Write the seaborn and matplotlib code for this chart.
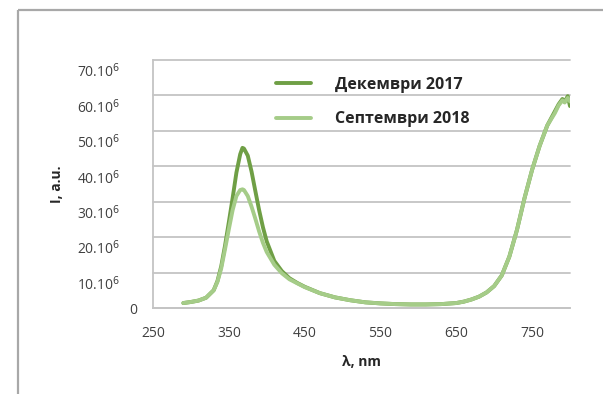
import numpy as np
import pandas as pd
import seaborn as sns
import matplotlib
matplotlib.use("Agg")
import matplotlib.pyplot as plt
import matplotlib.transforms as mtransforms
from matplotlib.lines import Line2D

# Emission spectra (wavelength in nm, intensity in millions of counts)
wavelength = [290, 300, 310, 320, 330, 335, 340, 345, 350, 355, 360, 365, 368,
              370, 375, 380, 385, 390, 395, 400, 410, 420, 430, 440, 450, 470,
              490, 510, 530, 550, 570, 590, 610, 630, 650, 660, 670, 680, 690,
              700, 710, 720, 730, 740, 750, 760, 770, 780, 785, 790, 793, 797,
              800]
dec_2017 = [1.4, 1.7, 2.1, 2.9, 5.0, 7.6, 11.8, 17.6, 24.2, 31.0, 38.2, 43.4,
            45.2, 45.0, 43.0, 38.5, 33.0, 27.6, 22.8, 18.8, 13.3, 10.4, 8.4,
            7.1, 6.0, 4.2, 3.0, 2.2, 1.6, 1.3, 1.1, 1.0, 1.0, 1.1, 1.4, 1.8,
            2.4, 3.2, 4.4, 6.2, 9.2, 14.5, 22.0, 31.0, 39.0, 45.8, 51.5, 55.5,
            57.5, 59.0, 58.2, 59.8, 57.0]
sep_2018 = [1.4, 1.7, 2.1, 2.9, 5.0, 7.4, 11.2, 16.6, 22.2, 27.6, 31.6, 33.3,
            33.5, 33.3, 31.6, 28.6, 25.2, 21.6, 18.4, 15.8, 12.2, 9.8, 8.1,
            7.0, 5.9, 4.2, 3.0, 2.2, 1.6, 1.3, 1.1, 1.0, 1.0, 1.1, 1.4, 1.8,
            2.4, 3.2, 4.4, 6.2, 9.2, 14.5, 22.0, 31.0, 39.0, 45.8, 51.5, 55.0,
            57.2, 58.6, 58.0, 59.3, 58.3]
series_names = ["Декември 2017", "Септември 2018"]
series_colors = ["#6f9f45", "#a5cc88"]

x_ticks = [250, 350, 450, 550, 650, 750]
y_ticks = [0, 10, 20, 30, 40, 50, 60, 70]
y_tick_labels = ["0"] + [f"{v}.10$^6$" for v in y_ticks[1:]]

df = pd.concat([
    pd.DataFrame({"wl": wavelength, "I": dec_2017, "series": series_names[0]}),
    pd.DataFrame({"wl": wavelength, "I": sep_2018, "series": series_names[1]}),
])

sns.set_theme(style="white")
plt.rcParams["font.family"] = ["Open Sans", "DejaVu Sans"]

fig = plt.figure(figsize=(6.03, 3.94), dpi=100)
fig.patch.set_facecolor("white")
fig.patch.set_edgecolor("white")
fig.patch.set_linewidth(0)
ax = fig.add_axes([153 / 603, 1 - 308 / 394, (570 - 153) / 603, (308 - 60) / 394])

sns.lineplot(data=df, x="wl", y="I", hue="series", hue_order=series_names,
             palette=series_colors, linewidth=2.8, legend=False, ax=ax,
             sort=False)

ax.set_xlim(250, 800)
ax.set_ylim(0, 70)
ax.set_xticks(x_ticks)
ax.set_yticks(y_ticks)
ax.set_yticklabels(y_tick_labels)
ax.grid(axis="y", color="#c4c4c4", linewidth=1.3)
for gl in ax.yaxis.get_gridlines():
    gl.set_clip_on(False)
ax.set_axisbelow(True)
for side in ["top", "right"]:
    ax.spines[side].set_visible(False)
for side in ["left", "bottom"]:
    ax.spines[side].set_color("#c4c4c4")
    ax.spines[side].set_linewidth(1.3)

ax.tick_params(axis="both", length=0, labelsize=10, labelcolor="#404040")
ax.tick_params(axis="x", pad=13)
ax.tick_params(axis="y", pad=11)

# shift the scientific labels down and to the left of the zero label
for lab in ax.get_yticklabels()[1:]:
    lab.set_transform(lab.get_transform() +
                      mtransforms.ScaledTranslation(-18 / 100, -10 / 100,
                                                    fig.dpi_scale_trans))

ax.set_xlabel("λ, nm", fontsize=10, fontweight="bold", color="#262626",
              labelpad=10)
ax.set_ylabel("I, a.u.", fontsize=10, fontweight="bold", color="#262626")
ax.yaxis.set_label_coords(-0.213, 0.5)

leg = ax.legend(ax.get_lines()[:2], series_names, frameon=False,
                loc="upper left", bbox_to_anchor=(276 / 603, 1 - 77 / 394),
                bbox_transform=fig.transFigure, borderaxespad=0, borderpad=0,
                handlelength=2.2, handletextpad=1.5, labelspacing=1.15,
                prop={"weight": "bold", "size": 11.5})
for t in leg.get_texts():
    t.set_color("#262626")

# outer frame of the figure (top and left edges, running off the canvas)
frame_kw = dict(color="#a8a8a8", linewidth=1.6, transform=fig.transFigure,
                solid_capstyle="butt")
fig.add_artist(Line2D([18 / 603, 1.0], [1 - 10 / 394, 1 - 10 / 394], **frame_kw))
fig.add_artist(Line2D([18 / 603, 18 / 603], [-0.3, 1 - 10 / 394], **frame_kw))

fig.savefig("out.png", dpi=100)
